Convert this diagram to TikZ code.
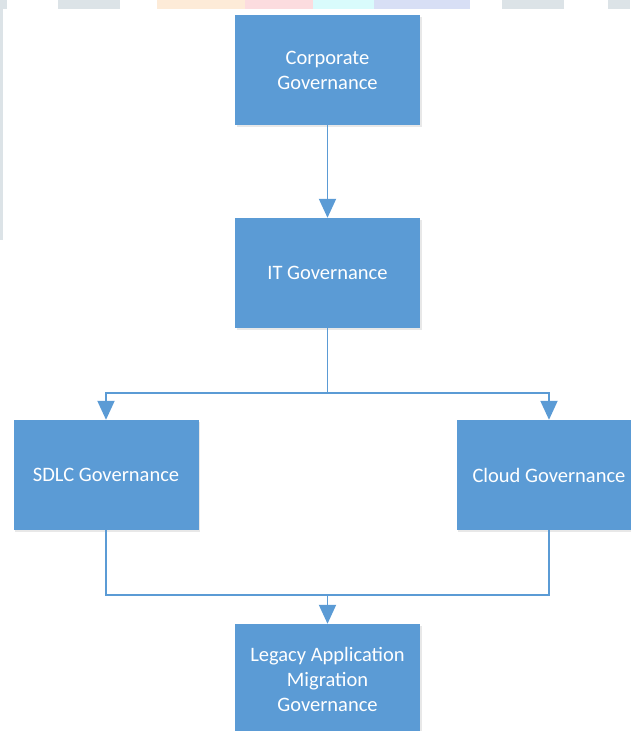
\documentclass[tikz,border=0pt]{standalone}
\usepackage{fontspec}
\setmainfont{Carlito}
\usetikzlibrary{arrows.meta,shadows,calc}
\definecolor{boxblue}{HTML}{5B9BD5}
\definecolor{wmgrey}{HTML}{DCE3E7}
\definecolor{wmpeach}{HTML}{FDEBD8}
\definecolor{wmpink}{HTML}{FCDCDF}
\definecolor{wmcyan}{HTML}{D9FBFC}
\definecolor{wmlav}{HTML}{D8DFF5}
\tikzset{
  govbox/.style={rectangle, fill=boxblue, text=white, minimum width=185pt, minimum height=110pt,
    inner sep=0pt, align=center, font=\fontsize{20.5pt}{25pt}\selectfont,
    drop shadow={opacity=0.18, shadow xshift=1.5pt, shadow yshift=-1.5pt}},
  conn/.style={draw=boxblue, line width=1.9pt},
  arr/.style={conn, -{Triangle[length=19pt, width=17pt]}}
}
\begin{document}
\begin{tikzpicture}[x=1pt, y=-1pt]
  \useasboundingbox (0,0) rectangle (630,731);
  % faint watermark remnants
  \fill[wmgrey] (0,0) rectangle (7,9);
  \fill[wmgrey] (0,0) rectangle (3,240);
  \fill[wmgrey] (58,0) rectangle (120,9);
  \fill[wmpeach] (157,0) rectangle (245,9);
  \fill[wmpink] (245,0) rectangle (313,9);
  \fill[wmcyan] (313,0) rectangle (374,9);
  \fill[wmlav] (374,0) rectangle (470,9);
  \fill[wmgrey] (502,0) rectangle (564,9);
  \fill[wmgrey] (608,0) rectangle (630,9);
  % boxes
  \node[govbox] (corp) at (327.5,70) {Corporate\\Governance};
  \node[govbox] (it) at (327.5,273) {IT Governance};
  \node[govbox] (sdlc) at (106,475) {SDLC Governance};
  \node[govbox] (cloud) at (549,475) {Cloud Governance};
  \node[govbox] (legacy) at (327.5,679) {Legacy Application\\Migration\\Governance};
  % connectors
  \coordinate (split) at (327.5,393);
  \coordinate (join) at (327.5,595);
  \draw[arr] (corp.south) -- (it.north);
  \draw[conn] (it.south) -- (split);
  \draw[arr] (split) -| (sdlc.north);
  \draw[arr] (split) -| (cloud.north);
  \draw[conn] (sdlc.south) |- (join);
  \draw[conn] (cloud.south) |- (join);
  \draw[arr] (join) -- (legacy.north);
\end{tikzpicture}
\end{document}
